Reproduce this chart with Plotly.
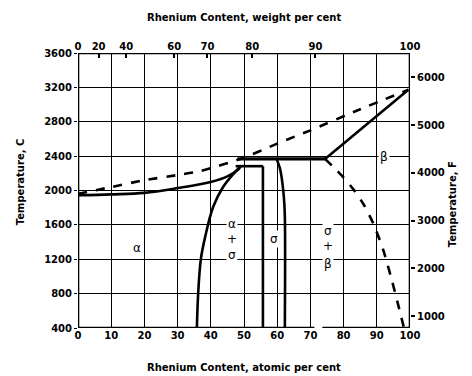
import plotly.graph_objects as go

# ---- data (atomic % Re, temperature in C) ----
liquidus_dashed_x = [0, 10, 20, 30, 37, 49, 60, 70, 85, 99.5]
liquidus_dashed_t = [1962, 2040, 2120, 2180, 2228, 2368, 2545, 2700, 2945, 3172]

solidus_x = [0, 10, 20, 30, 40, 45, 48, 49]
solidus_t = [1945, 1955, 1972, 2028, 2100, 2165, 2235, 2283]

alpha_solvus_x = [49, 47.3, 43.7, 40.7, 38.3, 37.0, 36.2, 35.8]
alpha_solvus_t = [2283, 2215, 2041, 1808, 1460, 1200, 800, 400]

peritectic_x = [48, 74.4]
peritectic_t = [2368, 2368]

eutectoid_x = [47.5, 55.7]
eutectoid_t = [2283, 2283]

sigma_left_x = [55.7, 55.7]
sigma_left_t = [2283, 400]

sigma_right_x = [59.8, 60.8, 61.3, 62.0, 62.3, 62.3]
sigma_right_t = [2368, 2260, 2161, 1928, 1700, 400]

beta_liquidus_x = [74.4, 99.5]
beta_liquidus_t = [2368, 3172]

beta_solvus_x = [74.4, 77, 80, 83, 86, 89, 92, 94.5, 96.5, 98.2]
beta_solvus_t = [2368, 2270, 2150, 2010, 1840, 1610, 1300, 960, 660, 400]

x_ticks_at = [0, 10, 20, 30, 40, 50, 60, 70, 80, 90, 100]
y_ticks_c = [400, 800, 1200, 1600, 2000, 2400, 2800, 3200, 3600]
wt_tick_pos = [0, 6.2, 14.5, 29, 39, 52.5, 71.5, 100]
wt_tick_text = ["0", "20", "40", "60", "70", "80", "90", "100"]
f_ticks = [1000, 2000, 3000, 4000, 5000, 6000]

labels = [
    ("α", 17.7, 1330), ("α", 46.4, 1610), ("+", 46.4, 1430), ("σ", 46.4, 1250),
    ("σ", 59.0, 1430), ("σ", 75.2, 1530), ("+", 75.2, 1355), ("β", 75.2, 1150),
    ("β", 92.3, 2395),
]

FONT = "DejaVu Sans"
C_MIN, C_MAX = 400, 3600
F_MIN, F_MAX = C_MIN * 9 / 5 + 32, C_MAX * 9 / 5 + 32

fig = go.Figure()
solid = dict(color="black", width=2.6)
dashed = dict(color="black", width=2.6, dash="dash")

def add(x, y, line, shape="spline", smoothing=1.0):
    fig.add_trace(go.Scatter(x=x, y=y, mode="lines",
                             line=dict(**line, shape=shape, smoothing=smoothing),
                             hoverinfo="skip", showlegend=False))

add(liquidus_dashed_x, liquidus_dashed_t, dashed, "spline", 0.6)
add(solidus_x, solidus_t, solid)
add(alpha_solvus_x, alpha_solvus_t, solid)
add(peritectic_x, peritectic_t, dict(color="black", width=3.4), "linear")
add(eutectoid_x, eutectoid_t, solid, "linear")
add(sigma_left_x, sigma_left_t, solid, "linear")
add(sigma_right_x, sigma_right_t, solid)
add(beta_liquidus_x, beta_liquidus_t, solid, "linear")
add(beta_solvus_x, beta_solvus_t, dashed, "spline", 0.8)

# secondary axes (invisible trace) to activate them
fig.add_trace(go.Scatter(x=[0, 100], y=[F_MIN, F_MAX], xaxis="x2", yaxis="y2",
                         mode="markers", marker=dict(opacity=0), hoverinfo="skip",
                         showlegend=False))

for txt, x, y in labels:
    fig.add_annotation(x=x, y=y, text=txt, showarrow=False, bgcolor="white",
                       font=dict(family=FONT, size=12, color="black"), borderpad=1)

# border
fig.add_shape(type="rect", xref="x", yref="y", x0=0, x1=100, y0=C_MIN, y1=C_MAX,
              line=dict(color="black", width=2.6), layer="above")
# scan gap in bottom border
fig.add_shape(type="rect", xref="x", yref="y", x0=71.2, x1=73.6, y0=330, y1=460,
              fillcolor="white", line=dict(width=0), layer="above")

tickfont = dict(family=FONT, size=10, color="black", weight="bold")
fig.update_layout(
    width=472, height=376,
    margin=dict(l=78, r=62, t=53, b=48),
    paper_bgcolor="white", plot_bgcolor="white",
    xaxis=dict(range=[0, 100], tickvals=x_ticks_at, showgrid=True, gridcolor="black",
               gridwidth=1.3, zeroline=False, ticks="", tickfont=tickfont,
               showline=False),
    yaxis=dict(range=[C_MIN, C_MAX], tickvals=y_ticks_c, showgrid=True, gridcolor="black",
               gridwidth=1.3, zeroline=False, ticks="outside", ticklen=3, tickwidth=1.3,
               tickcolor="black", tickfont=tickfont, showline=False),
    xaxis2=dict(range=[0, 100], overlaying="x", side="top", tickvals=wt_tick_pos,
                ticktext=wt_tick_text, ticks="inside", ticklen=5, tickwidth=1.5,
                tickcolor="black", showgrid=False, zeroline=False, tickfont=tickfont),
    yaxis2=dict(range=[F_MIN, F_MAX], overlaying="y", side="right", tickvals=f_ticks,
                ticks="outside", ticklen=4, tickwidth=1.5, tickcolor="black",
                showgrid=False, zeroline=False, tickfont=tickfont),
)

titlefont = dict(family=FONT, size=10, color="black", weight="bold")
fig.add_annotation(xref="paper", yref="paper", x=0.5, y=1, yshift=36, yanchor="middle",
                   text="Rhenium Content, weight per cent", showarrow=False, font=titlefont)
fig.add_annotation(xref="paper", yref="paper", x=0.5, y=0, yshift=-39, yanchor="middle",
                   text="Rhenium Content, atomic per cent", showarrow=False, font=titlefont)
fig.add_annotation(xref="paper", yref="paper", x=0, xshift=-58, y=0.53, xanchor="center",
                   yanchor="middle", text="Temperature, C", textangle=-90,
                   showarrow=False, font=titlefont)
fig.add_annotation(xref="paper", yref="paper", x=1, xshift=42, y=0.45, xanchor="center",
                   yanchor="middle", text="Temperature, F", textangle=-90,
                   showarrow=False, font=titlefont)

fig.write_html("out.html")
